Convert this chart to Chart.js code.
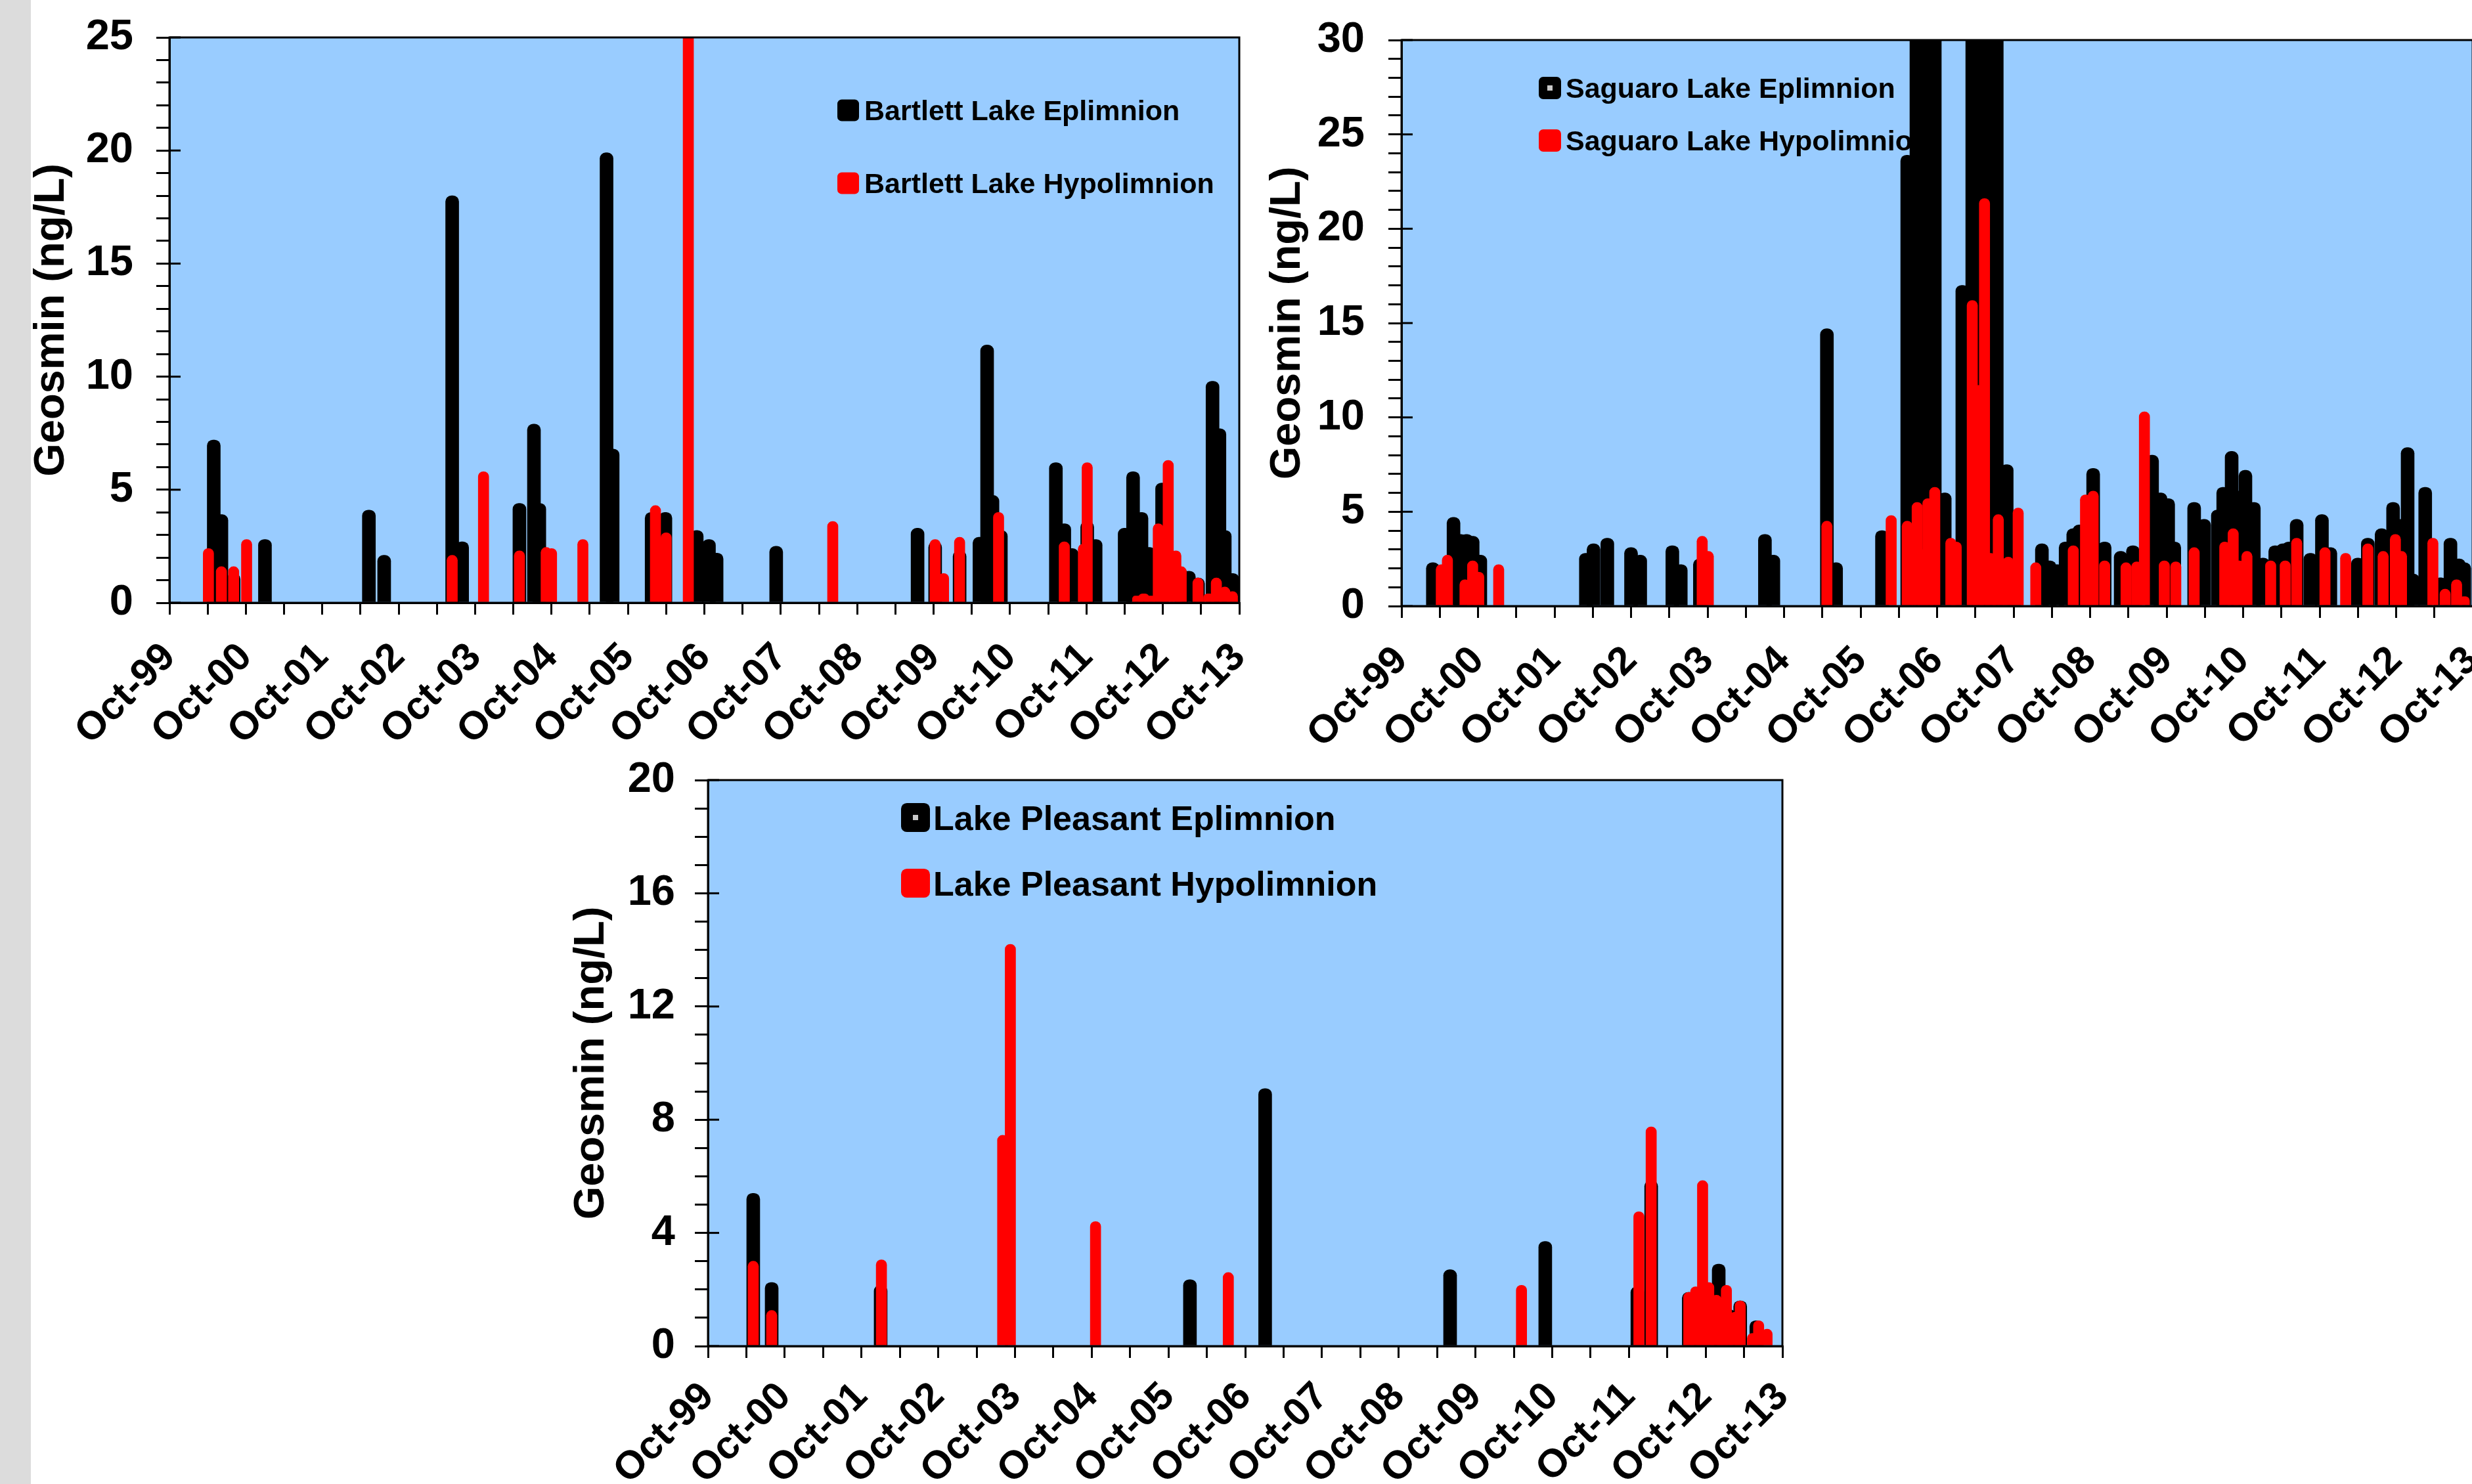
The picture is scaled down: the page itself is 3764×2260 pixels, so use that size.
<!DOCTYPE html>
<html>
<head>
<meta charset="utf-8">
<script src="https://cdn.jsdelivr.net/npm/chart.js@4.4.1/dist/chart.umd.min.js"></script>
<style>
  html, body { margin: 0; padding: 0; width: 3764px; height: 2260px; overflow: hidden; background: #fff; }
  .strip { position: absolute; left: 0; top: 0; width: 47px; height: 2260px; background: #dcdcdc; }
  canvas { position: absolute; }
</style>
</head>
<body>
<div class="strip"></div>
<canvas id="bartlett" width="1870" height="1150" style="left:47px;top:0px"></canvas>
<canvas id="saguaro" width="1850" height="1150" style="left:1917px;top:0px"></canvas>
<canvas id="pleasant" width="1900" height="1110" style="left:850px;top:1150px"></canvas>
<script>
// tick labels on the time axis (one per year, October)
const tickLabels = ['Oct-99', 'Oct-00', 'Oct-01', 'Oct-02', 'Oct-03', 'Oct-04', 'Oct-05',
    'Oct-06', 'Oct-07', 'Oct-08', 'Oct-09', 'Oct-10', 'Oct-11', 'Oct-12', 'Oct-13'];
const firstTick = 1999.75;   // Oct-99 as decimal year

// Bartlett Lake (dates as decimal years, geosmin ng/L)
const bartlettEpiDates = [2000.33, 2000.43, 2000.59, 2001.0, 2002.36, 2002.56, 2003.45, 2003.58, 2004.33, 2004.52, 2004.59,
    2005.47, 2005.55, 2006.06, 2006.24, 2006.65, 2006.81, 2006.91, 2007.69, 2009.54, 2009.77, 2010.09, 2010.35, 2010.45,
    2010.52, 2010.63, 2011.35, 2011.46, 2011.56, 2011.76, 2011.87, 2012.25, 2012.36, 2012.47, 2012.57, 2012.74, 2012.99,
    2013.09, 2013.21, 2013.40, 2013.49, 2013.56, 2013.66];
const bartlettEpiValues = [7.2, 3.9, 1.3, 2.8, 4.1, 2.1, 18.0, 2.7, 4.4, 7.9, 4.4,
    19.9, 6.8, 4.0, 4.0, 3.2, 2.8, 2.2, 2.5, 3.3, 2.7, 2.3, 2.9, 11.4,
    4.75, 3.2, 6.2, 3.5, 2.4, 3.6, 2.8, 3.3, 5.8, 4.0, 2.45, 5.3, 1.5,
    1.4, 1.1, 9.8, 7.7, 3.2, 1.3];
const bartlettHypoDates = [2000.26, 2000.43, 2000.59, 2000.76, 2003.45, 2003.86, 2004.33, 2004.68, 2004.75, 2005.16,
    2006.11, 2006.25, 2006.54, 2008.43, 2009.77, 2009.88, 2010.09, 2010.60, 2011.46, 2011.71, 2011.76, 2012.42, 2012.50,
    2012.58, 2012.69, 2012.82, 2012.92, 2012.99, 2013.21, 2013.35, 2013.45, 2013.56, 2013.66];
const bartlettHypoValues = [2.4, 1.6, 1.6, 2.8, 2.1, 5.8, 2.3, 2.45, 2.4, 2.8,
    4.3, 3.1, 26, 3.6, 2.8, 1.3, 2.9, 4.0, 2.7, 2.6, 6.2, 0.3, 0.4,
    0.3, 3.5, 6.3, 2.3, 1.6, 1.1, 0.4, 1.1, 0.7, 0.5];

// Saguaro Lake
const saguaroEpiDates = [2000.16, 2000.43, 2000.52, 2000.60, 2000.68, 2000.78, 2002.16, 2002.26, 2002.44, 2002.75, 2002.87,
    2003.29, 2003.40, 2003.65, 2004.50, 2004.61, 2005.31, 2005.43, 2006.03, 2006.36, 2006.48, 2006.56, 2006.64, 2006.72,
    2006.85, 2007.08, 2007.21, 2007.29, 2007.37, 2007.45, 2007.53, 2007.66, 2007.76, 2008.12, 2008.22, 2008.32, 2008.43,
    2008.53, 2008.61, 2008.79, 2008.94, 2009.15, 2009.31, 2009.56, 2009.67, 2009.77, 2009.85, 2010.11, 2010.24, 2010.42,
    2010.49, 2010.60, 2010.68, 2010.78, 2010.89, 2011.01, 2011.17, 2011.27, 2011.35, 2011.45, 2011.63, 2011.78, 2011.89,
    2012.25, 2012.38, 2012.56, 2012.71, 2012.82, 2012.90, 2012.97, 2013.13, 2013.33, 2013.46, 2013.57, 2013.64];
const saguaroEpiValues = [2.3, 4.7, 3.8, 3.8, 3.7, 2.7, 2.8, 3.3, 3.6, 3.1, 2.7,
    3.2, 2.2, 2.5, 3.8, 2.7, 14.7, 2.3, 4.0, 23.9, 44, 37, 52, 41,
    6.0, 17.0, 48, 36, 55, 40, 33, 7.5, 4.0, 3.3, 2.4, 2.2, 3.4,
    4.1, 4.3, 7.3, 3.4, 2.9, 3.2, 8.0, 6.0, 5.7, 3.4, 5.5, 4.6, 5.1,
    6.3, 8.2, 6.1, 7.2, 5.5, 2.55, 3.2, 3.3, 3.4, 4.6, 2.8, 4.85, 3.1,
    2.55, 3.6, 4.1, 5.5, 4.6, 8.4, 1.7, 6.3, 1.5, 3.6, 2.5, 2.3];
const saguaroHypoDates = [2000.27, 2000.35, 2000.58, 2000.68, 2000.76, 2001.02, 2003.68, 2003.76, 2005.31, 2006.15,
    2006.36, 2006.49, 2006.57, 2006.63, 2006.72, 2006.93, 2007.00, 2007.21, 2007.29, 2007.37, 2007.45, 2007.55, 2007.68,
    2007.81, 2008.04, 2008.53, 2008.69, 2008.79, 2008.94, 2009.22, 2009.36, 2009.46, 2009.72, 2009.87, 2010.11, 2010.51,
    2010.62, 2010.70, 2010.80, 2011.11, 2011.30, 2011.45, 2011.82, 2012.09, 2012.38, 2012.58, 2012.74, 2012.82, 2013.23,
    2013.39, 2013.54, 2013.64];
const saguaroHypoValues = [2.2, 2.7, 1.4, 2.4, 1.8, 2.2, 3.7, 2.9, 4.5, 4.8,
    4.5, 5.5, 3.0, 5.7, 6.3, 3.6, 3.4, 16.2, 11.7, 21.6, 2.8, 4.85, 2.6,
    5.2, 2.3, 3.2, 5.9, 6.1, 2.4, 2.3, 2.35, 10.3, 2.4, 2.35, 3.1, 3.4,
    4.1, 2.4, 2.9, 2.4, 2.4, 3.6, 3.1, 2.8, 3.3, 2.9, 3.8, 2.9, 3.6,
    0.9, 1.4, 0.5];

// Lake Pleasant
const pleasantEpiDates = [2000.34, 2000.58, 2002.00, 2006.03, 2007.01, 2009.42, 2010.66, 2011.86, 2012.04, 2012.53,
    2012.66, 2012.84, 2012.92, 2013.05, 2013.20, 2013.41];
const pleasantEpiValues = [5.4, 2.25, 2.15, 2.35, 9.1, 2.7, 3.7, 2.1, 5.85, 1.9,
    1.8, 1.8, 2.9, 1.3, 1.6, 0.9];
const pleasantHypoDates = [2000.34, 2000.58, 2002.01, 2003.59, 2003.69, 2004.80, 2006.53, 2010.35, 2011.88, 2012.04,
    2012.53, 2012.62, 2012.71, 2012.79, 2012.89, 2012.97, 2013.02, 2013.13, 2013.20, 2013.36, 2013.44, 2013.55];
const pleasantHypoValues = [3.0, 1.26, 3.05, 7.45, 14.2, 4.4, 2.6, 2.15, 4.75, 7.75,
    1.9, 2.1, 5.85, 2.25, 1.8, 1.7, 2.15, 1.2, 1.6, 0.45, 0.9, 0.6];

const FONT = "'Liberation Sans', Arial, sans-serif";

function toPoints(dates, values) {
    return dates.map((d, i) => ({ x: d, y: values[i] }));
}

// plot background, frame, inner major ticks and the legend inside the plot
const panelPlugin = {
    id: 'panel',
    beforeDraw(chart) {
        const a = chart.chartArea;
        const ctx = chart.ctx;
        ctx.save();
        ctx.fillStyle = '#99ccff';
        ctx.fillRect(a.left, a.top, a.right - a.left, a.bottom - a.top);
        ctx.restore();
    },
    beforeDatasetsDraw(chart, args, opts) {
        const a = chart.chartArea;
        const ctx = chart.ctx;
        const L = opts.legend;
        ctx.save();
        ctx.font = 'bold ' + L.size + 'px ' + FONT;
        chart.data.datasets.forEach((ds, i) => {
            const cy = a.top + L.rows[i];
            const bx = a.left + L.x;
            ctx.fillStyle = ds.backgroundColor;
            ctx.beginPath();
            ctx.roundRect(bx, cy - L.box / 2, L.box, L.box, L.box * 0.2);
            ctx.fill();
            if (L.dot && i === 0) {
                ctx.fillStyle = '#c8c8c8';
                ctx.fillRect(bx + L.box / 2 - 4, cy - 4, 8, 8);
            }
            ctx.fillStyle = '#000';
            ctx.textBaseline = 'alphabetic';
            ctx.fillText(ds.label, bx + L.box + L.gap, cy + L.size * 0.36);
        });
        ctx.restore();
    },
    afterDatasetsDraw(chart, args, opts) {
        const a = chart.chartArea;
        const ctx = chart.ctx;
        const y = chart.scales.y;
        ctx.save();
        ctx.strokeStyle = '#000';
        ctx.lineWidth = 3;
        ctx.strokeRect(a.left, a.top, a.right - a.left, a.bottom - a.top);
        for (let v = 0; v <= y.max; v += opts.major) {
            const py = y.getPixelForValue(v);
            ctx.beginPath();
            ctx.moveTo(a.left, py);
            ctx.lineTo(a.left + 17, py);
            ctx.stroke();
        }
        ctx.restore();
    }
};

function createChart(canvas, label, epiDates, epiValues, hypoDates, hypoValues, p) {
    new Chart(canvas, {
        type: 'bar',
        data: {
            datasets: [{
                label: label + ' Eplimnion',
                data: toPoints(epiDates, epiValues),
                backgroundColor: '#000000',
                barThickness: 20,
                order: 2
            }, {
                label: label + ' Hypolimnion',
                data: toPoints(hypoDates, hypoValues),
                backgroundColor: '#ff0000',
                barThickness: 16,
                order: 1
            }]
        },
        plugins: [panelPlugin],
        options: {
            responsive: false,
            animation: false,
            events: [],
            grouped: false,
            borderRadius: { topLeft: 9, topRight: 9, bottomLeft: 0, bottomRight: 0 },
            borderSkipped: 'start',
            clip: 0,
            layout: { padding: { left: 0, top: p.padTop, right: p.padRight, bottom: 0 } },
            plugins: {
                legend: { display: false },
                tooltip: { enabled: false },
                panel: { major: p.major, legend: p.legend }
            },
            scales: {
                x: {
                    type: 'linear',
                    offset: false,
                    min: firstTick,
                    max: firstTick + tickLabels.length - 1,
                    afterBuildTicks: scale => {
                        const ticks = [];
                        for (let i = 0; i < tickLabels.length; i++) {
                            ticks.push({ value: firstTick + i });
                            if (i < tickLabels.length - 1) ticks.push({ value: firstTick + i + 0.5 });
                        }
                        scale.ticks = ticks;
                    },
                    afterFit: scale => {
                        scale.height = p.xHeight;
                        scale.paddingLeft = 0;
                        scale.paddingRight = 0;
                    },
                    border: { display: true, color: '#000', width: 3 },
                    grid: { offset: false, drawOnChartArea: false, drawTicks: true, tickLength: 18, color: '#000', lineWidth: 3 },
                    ticks: {
                        autoSkip: false,
                        minRotation: 45,
                        maxRotation: 45,
                        padding: p.xPad,
                        color: '#000',
                        font: { family: FONT, size: 60, weight: 'bold' },
                        callback: value => {
                            const i = Math.round(value - firstTick);
                            return Math.abs(value - firstTick - i) < 1e-6 ? tickLabels[i] : '';
                        }
                    }
                },
                y: {
                    min: 0,
                    max: p.yMax,
                    afterFit: scale => {
                        scale.width = p.yWidth;
                        scale.paddingTop = 0;
                        scale.paddingBottom = 0;
                    },
                    border: { display: true, color: '#000', width: 3 },
                    grid: { drawOnChartArea: false, drawTicks: true, tickLength: 20, color: '#000', lineWidth: 3 },
                    ticks: {
                        stepSize: 1,
                        autoSkip: false,
                        padding: p.yPad,
                        color: '#000',
                        font: { family: FONT, size: 65, weight: 'bold' },
                        callback: value => (value % p.major === 0 ? value : '')
                    },
                    title: {
                        display: true,
                        text: 'Geosmin (ng/L)',
                        color: '#000',
                        padding: { top: p.titlePad, bottom: 0 },
                        font: { family: FONT, size: 65, weight: 'bold', lineHeight: 1 }
                    }
                }
            }
        }
    });
}

createChart(document.getElementById('bartlett'), 'Bartlett Lake',
    bartlettEpiDates, bartlettEpiValues, bartlettHypoDates, bartlettHypoValues,
    { padTop: 57, padRight: 30, yWidth: 211, xHeight: 232, yMax: 25, major: 5, titlePad: 0, yPad: 35, xPad: 30,
      legend: { x: 1017, rows: [111, 222], box: 33, gap: 8, size: 43, dot: false } });

createChart(document.getElementById('saguaro'), 'Saguaro Lake',
    saguaroEpiDates, saguaroEpiValues, saguaroHypoDates, saguaroHypoValues,
    { padTop: 61, padRight: 2, yWidth: 217, xHeight: 227, yMax: 30, major: 5, titlePad: 12, yPad: 36, xPad: 30,
      legend: { x: 209, rows: [73, 153], box: 34, gap: 7, size: 43, dot: true } });

createChart(document.getElementById('pleasant'), 'Lake Pleasant',
    pleasantEpiDates, pleasantEpiValues, pleasantHypoDates, pleasantHypoValues,
    { padTop: 38, padRight: 36, yWidth: 228, xHeight: 210, yMax: 20, major: 4, titlePad: 19, yPad: 30, xPad: 24,
      legend: { x: 294, rows: [57, 157], box: 44, gap: 5, size: 52, dot: true } });
</script>
</body>
</html>
